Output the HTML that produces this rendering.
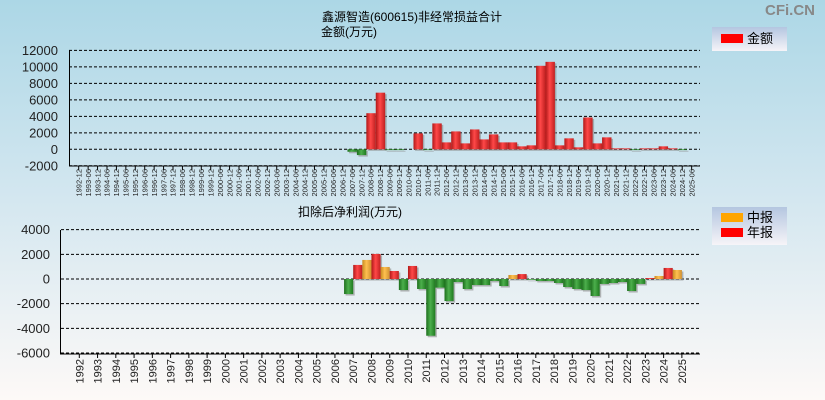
<!DOCTYPE html>
<html><head><meta charset="utf-8"><style>
html,body{margin:0;padding:0;width:825px;height:400px;overflow:hidden}
svg{display:block;font-family:"Liberation Sans","Noto Sans CJK SC",sans-serif}
</style></head><body>
<svg id="c" width="825" height="400" viewBox="0 0 825 400" xmlns="http://www.w3.org/2000/svg">
<defs>
<linearGradient id="bg" x1="0" y1="0" x2="0" y2="1"><stop offset="0" stop-color="#acd7e6"/><stop offset="0.5" stop-color="#d4e7f0"/><stop offset="1" stop-color="#fdf9f7"/></linearGradient>
<linearGradient id="gr" x1="0" y1="0" x2="1" y2="0"><stop offset="0" stop-color="#b01818"/><stop offset="0.45" stop-color="#ff4848"/><stop offset="1" stop-color="#c02020"/></linearGradient>
<linearGradient id="gg" x1="0" y1="0" x2="1" y2="0"><stop offset="0" stop-color="#1d6e1d"/><stop offset="0.45" stop-color="#4caf4c"/><stop offset="1" stop-color="#1f7a1f"/></linearGradient>
<linearGradient id="go" x1="0" y1="0" x2="1" y2="0"><stop offset="0" stop-color="#c88a20"/><stop offset="0.45" stop-color="#ffc050"/><stop offset="1" stop-color="#d09030"/></linearGradient>
<linearGradient id="lg" x1="0" y1="0" x2="0" y2="1"><stop offset="0" stop-color="#b4c6e0"/><stop offset="1" stop-color="#f6f4f8"/></linearGradient>
</defs>
<rect x="0" y="0" width="825" height="400" fill="url(#bg)"/>
<text x="790" y="15" font-size="15" font-weight="bold" fill="#888" text-anchor="middle">CFi.CN</text>
<text x="412" y="21" font-size="12" text-anchor="middle">鑫源智造(600615)非经常损益合计</text>
<text x="349" y="36" font-size="12" text-anchor="middle">金额(万元)</text>
<text x="350" y="216" font-size="12" text-anchor="middle">扣除后净利润(万元)</text>
<g>
<rect x="712" y="27" width="75" height="24" fill="url(#lg)"/>
<rect x="721" y="34" width="22" height="9" fill="#f00"/>
<text x="747" y="43" font-size="13">金额</text>
</g>
<g>
<rect x="712" y="207" width="75" height="38" fill="url(#lg)"/>
<rect x="721" y="213" width="22" height="9" fill="#ffa500"/>
<text x="747" y="222" font-size="13">中报</text>
<rect x="721" y="228" width="22" height="9" fill="#f00"/>
<text x="747" y="237" font-size="13">年报</text>
</g>
<g id="topg"></g><g id="botg"></g>
</svg>
<script>
// Top chart data (non-recurring gains), index 0 = 1992-12, half-year steps
const topPeriods = [];
for (let y = 1992; y <= 2025; y++) { if (y > 1992) topPeriods.push(y + '-06'); if (y < 2025) topPeriods.push(y + '-12'); }
const topIdx = [29,30,31,32,33,34,36,37,38,39,40,41,42,43,44,45,46,47,48,49,50,51,52,53,54,55,56,57,58,59,60,61,62,63,64];
const topValues = [-300,-700,4380,6870,-50,-50,1930,-50,3140,840,2170,720,2410,1200,1810,840,840,360,480,10130,10610,480,1330,240,3860,720,1450,120,120,-40,120,120,360,120,-40];
const topTicks = [-2000,0,2000,4000,6000,8000,10000,12000];
// Bottom chart data (net profit after deduction)
const botYears = [];
for (let y = 1992; y <= 2025; y++) botYears.push(y);
const botPeriods = ['2007-06','2007-12','2008-06','2008-12','2009-06','2009-12','2010-06','2010-12','2011-06','2011-12','2012-06','2012-12','2013-06','2013-12','2014-06','2014-12','2015-06','2015-12','2016-06','2016-12','2017-06','2017-12','2018-06','2018-12','2019-06','2019-12','2020-06','2020-12','2021-06','2021-12','2022-06','2022-12','2023-06','2023-12','2024-06','2024-12','2025-06'];
const botValues = [-1220,1140,1545,2030,975,650,-895,1057,-810,-4600,-700,-1790,-245,-810,-490,-490,-160,-570,325,400,-30,-160,-160,-325,-650,-810,-895,-1380,-400,-325,-245,-975,-400,80,245,895,730];
const botTicks = [-6000,-4000,-2000,0,2000,4000];

const NS = 'http://www.w3.org/2000/svg';
function mk(parent, tag, attrs, txt) {
  const e = document.createElementNS(NS, tag);
  for (const k in attrs) e.setAttribute(k, attrs[k]);
  if (txt !== undefined) e.textContent = txt;
  parent.appendChild(e); return e;
}
const tX = i => 78.7 + 9.43 * i;
const tY = v => 149.3 - v * (115.4 / 14000);
const bX = y => 79.3 + 18.26 * (y - 1992);
const bY = v => 279 - v * (123.4 / 10000);

const topG = document.getElementById('topg');
const botG = document.getElementById('botg');

topTicks.forEach(v => {
  const y = tY(v);
  const l = mk(topG, 'line', {x1: 69, x2: 700, y1: y, y2: y, stroke: '#000', 'stroke-dasharray': '3,2', 'stroke-width': 1});
  
  
  const t = mk(topG, 'text', {x: 58, y: y + 4.5, 'font-size': 13, 'text-anchor': 'end', fill: '#222'}, v);
  
  
});
topIdx.forEach((idx, k) => {
  const v = topValues[k];
  const cx = tX(idx), w = 9.4;
  const y0 = tY(0), y1 = tY(v);
  const yy = Math.min(y0, y1), h = Math.max(Math.abs(y1 - y0), 0.8);
  mk(topG, 'rect', {x: cx - w / 2 + 1.5, y: yy + 1.5, width: w, height: h, fill: '#888', opacity: 0.6});
  const r = mk(topG, 'rect', {x: cx - w / 2, y: yy, width: w, height: h, fill: v >= 0 ? 'url(#gr)' : 'url(#gg)'});
  
  
});
mk(topG, 'line', {x1: 69.5, x2: 69.5, y1: 50, y2: 166, stroke: '#000'});
mk(topG, 'line', {x1: 69, x2: 700, y1: 166, y2: 166, stroke: '#000'});
topPeriods.forEach((p, i) => {
  const x = tX(i);
  mk(topG, 'line', {x1: x, x2: x, y1: 166, y2: 170, stroke: '#000'});
  const t = mk(topG, 'text', {x: 0, y: 0, 'font-size': 7.5, 'text-anchor': 'end', fill: '#222', transform: `translate(${x + 2.7},169) rotate(-90)`}, p);
  
  
});

botTicks.forEach(v => {
  const y = bY(v);
  const l = mk(botG, 'line', {x1: 61, x2: 700, y1: y, y2: y, stroke: '#000', 'stroke-dasharray': '3,2', 'stroke-width': 1});
  
  
  const t = mk(botG, 'text', {x: 50, y: y + 4.5, 'font-size': 13, 'text-anchor': 'end', fill: '#222'}, v);
  
  
});
botPeriods.forEach((p, k) => {
  const v = botValues[k];
  const yr = +p.slice(0, 4), half = p.slice(5) === '06' ? -1 : 1;
  const w = 9.13, cx = bX(yr) + half * w / 2;
  const y0 = bY(0), y1 = bY(v);
  const yy = Math.min(y0, y1), h = Math.max(Math.abs(y1 - y0), 0.8);
  const fill = v < 0 ? 'url(#gg)' : (half < 0 ? 'url(#go)' : 'url(#gr)');
  mk(botG, 'rect', {x: cx - w / 2 + 1.5, y: yy + 1.5, width: w, height: h, fill: '#888', opacity: 0.6});
  const r = mk(botG, 'rect', {x: cx - w / 2, y: yy, width: w, height: h, fill: fill});
  
  
});
mk(botG, 'line', {x1: 60.5, x2: 60.5, y1: 230, y2: 354, stroke: '#000'});
mk(botG, 'line', {x1: 60, x2: 700, y1: 354, y2: 354, stroke: '#000'});
botYears.forEach(yr => {
  const x = bX(yr);
  mk(botG, 'line', {x1: x, x2: x, y1: 354, y2: 358, stroke: '#000'});
  const t = mk(botG, 'text', {x: 0, y: 0, 'font-size': 11, 'text-anchor': 'end', fill: '#222', transform: `translate(${x + 4},359) rotate(-90)`}, yr);
  
  
});
</script>
</body></html>
